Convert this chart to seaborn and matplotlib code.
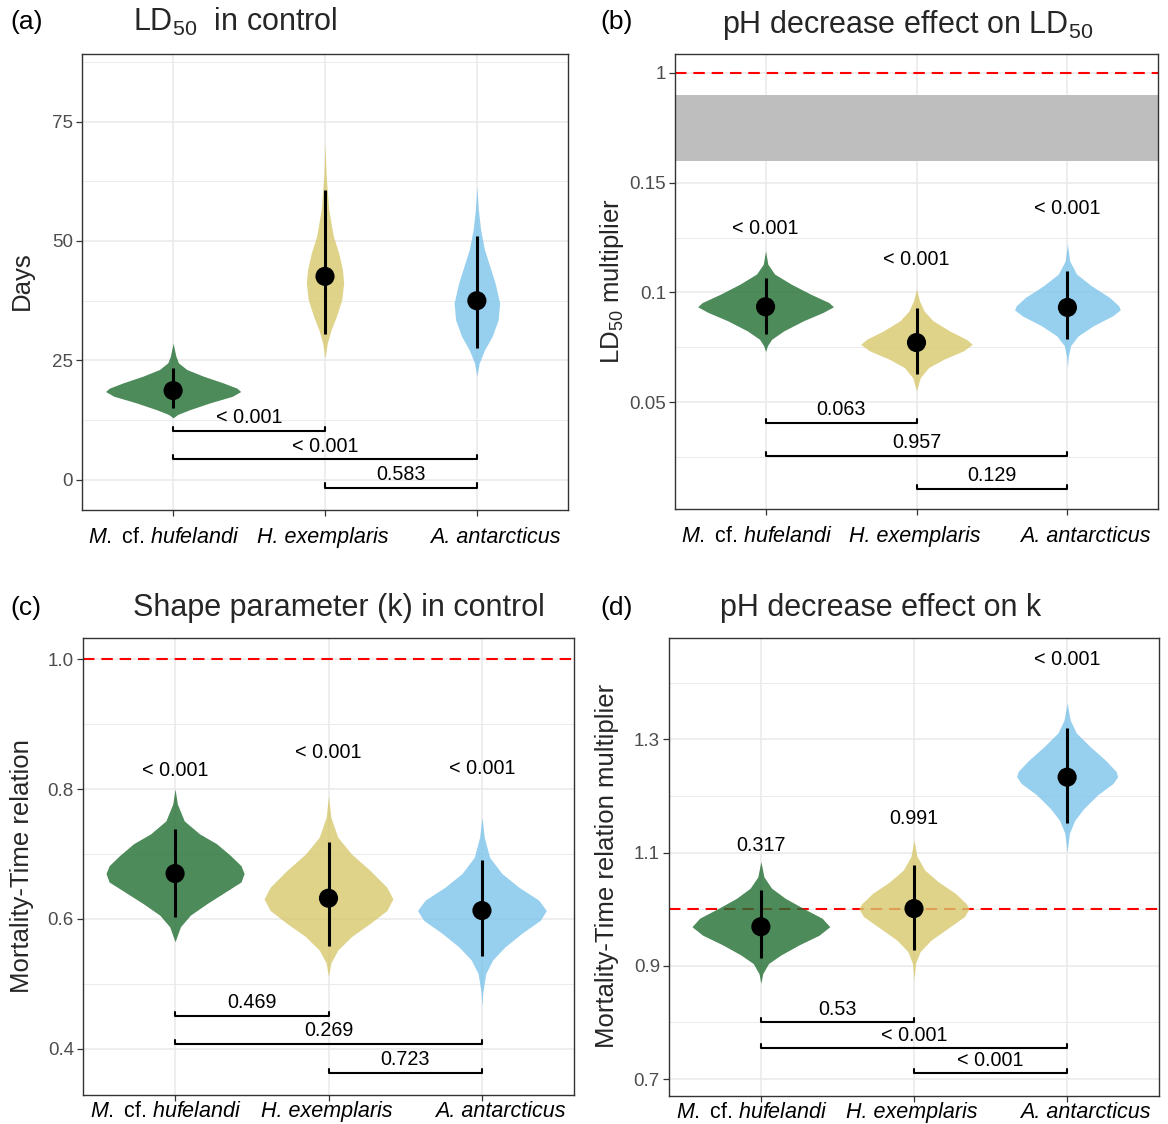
import numpy as np
import matplotlib
matplotlib.use("Agg")
import matplotlib.pyplot as plt
import matplotlib.transforms as mtransforms
from matplotlib.ticker import FixedLocator
import seaborn as sns

# DATA
species = ["M. cf. hufelandi", "H. exemplaris", "A. antarcticus"]
species_fmt = [r"$\mathit{M.}$ cf. $\mathit{hufelandi}$", "H. exemplaris", "A. antarcticus"]
pairs = [(0, 1), (0, 2), (1, 2)]

# (a) LD50 in control, days
a_mid = [18.7, 42.6, 37.5]
a_lo = [15.0, 30.6, 27.7]
a_hi = [23.4, 60.7, 51.1]
a_vy = [[13.0, 13.7, 14.7, 16.1, 17.5, 18.5, 19.2, 20.3, 21.7, 23.1, 24.5, 25.9, 28.6],
        [25.5, 28.6, 31.4, 34.2, 37.7, 41.2, 44.0, 47.5, 51.0, 56.5, 63.5, 70.5],
        [21.7, 24.4, 27.2, 30.0, 33.5, 37.0, 41.2, 44.7, 48.2, 52.3, 56.5, 61.4]]
a_vw = [[0, 0.03, 0.11, 0.24, 0.39, 0.445, 0.42, 0.33, 0.20, 0.09, 0.035, 0.018, 0],
        [0, 0.015, 0.04, 0.075, 0.11, 0.123, 0.115, 0.09, 0.055, 0.025, 0.008, 0],
        [0, 0.015, 0.05, 0.10, 0.14, 0.15, 0.12, 0.085, 0.05, 0.025, 0.01, 0]]
a_pair_p = ["< 0.001", "< 0.001", "0.583"]

# (b) pH decrease effect on LD50 (multiplier)
b_mid = [0.0935, 0.0772, 0.0932]
b_lo = [0.081, 0.0628, 0.0787]
b_hi = [0.1065, 0.0929, 0.1096]
b_vy = [[0.0731, 0.0757, 0.0787, 0.0825, 0.0871, 0.0909, 0.0935, 0.0954, 0.0992, 0.1038, 0.1084, 0.1129, 0.119],
        [0.0552, 0.0612, 0.0658, 0.0696, 0.0734, 0.0764, 0.0787, 0.0825, 0.0871, 0.0916, 0.0962, 0.1015],
        [0.0658, 0.0704, 0.0757, 0.0802, 0.0848, 0.0894, 0.0921, 0.0939, 0.0977, 0.103, 0.1084, 0.1144, 0.122]]
b_vw = [[0, 0.012, 0.04, 0.12, 0.25, 0.38, 0.45, 0.42, 0.30, 0.17, 0.06, 0.015, 0],
        [0, 0.025, 0.08, 0.18, 0.31, 0.37, 0.33, 0.22, 0.11, 0.05, 0.02, 0],
        [0, 0.005, 0.02, 0.07, 0.17, 0.30, 0.35, 0.34, 0.28, 0.16, 0.06, 0.015, 0]]
b_top_p = ["< 0.001", "< 0.001", "< 0.001"]
b_pair_p = ["0.063", "0.957", "0.129"]
b_tick_labels = ["0.05", "0.1", "0.15", "1"]

# (c) shape parameter k in control
c_mid = [0.670, 0.632, 0.613]
c_lo = [0.603, 0.558, 0.543]
c_hi = [0.738, 0.718, 0.691]
c_vy = [[0.565, 0.588, 0.606, 0.624, 0.642, 0.657, 0.670, 0.682, 0.698, 0.716, 0.731, 0.751, 0.777, 0.800],
        [0.511, 0.532, 0.552, 0.573, 0.593, 0.613, 0.631, 0.649, 0.675, 0.700, 0.726, 0.757, 0.790],
        [0.465, 0.486, 0.516, 0.537, 0.557, 0.578, 0.598, 0.613, 0.629, 0.649, 0.670, 0.695, 0.726, 0.757]]
c_vw = [[0, 0.035, 0.10, 0.21, 0.33, 0.43, 0.45, 0.43, 0.36, 0.27, 0.16, 0.06, 0.015, 0],
        [0, 0.015, 0.06, 0.15, 0.27, 0.38, 0.42, 0.38, 0.27, 0.15, 0.06, 0.015, 0],
        [0, 0.005, 0.025, 0.07, 0.15, 0.26, 0.38, 0.42, 0.37, 0.24, 0.13, 0.05, 0.015, 0]]
c_top_p = ["< 0.001", "< 0.001", "< 0.001"]
c_pair_p = ["0.469", "0.269", "0.723"]
c_tick_labels = ["0.4", "0.6", "0.8", "1.0"]

# (d) pH decrease effect on k
d_mid = [0.969, 1.001, 1.233]
d_lo = [0.913, 0.928, 1.152]
d_hi = [1.034, 1.078, 1.319]
d_vy = [[0.869, 0.886, 0.904, 0.919, 0.937, 0.954, 0.969, 0.984, 1.001, 1.019, 1.037, 1.057, 1.084],
        [0.875, 0.904, 0.925, 0.945, 0.966, 0.987, 1.001, 1.010, 1.028, 1.048, 1.069, 1.093, 1.122],
        [1.101, 1.134, 1.157, 1.178, 1.202, 1.222, 1.234, 1.243, 1.263, 1.287, 1.311, 1.334, 1.364]]
d_vw = [[0, 0.012, 0.05, 0.13, 0.25, 0.38, 0.45, 0.40, 0.28, 0.16, 0.07, 0.02, 0],
        [0, 0.01, 0.04, 0.11, 0.22, 0.33, 0.36, 0.34, 0.27, 0.16, 0.07, 0.02, 0],
        [0, 0.015, 0.05, 0.11, 0.20, 0.30, 0.33, 0.32, 0.25, 0.15, 0.06, 0.02, 0]]
d_top_p = ["0.317", "0.991", "< 0.001"]
d_pair_p = ["0.53", "< 0.001", "< 0.001"]

# STYLE
colors = ["#226E32", "#D7C86D", "#7DC3EA"]
sns.set_theme(style="whitegrid")
plt.rcParams['font.family'] = ['Liberation Sans', 'DejaVu Sans']
plt.rcParams['mathtext.fontset'] = 'custom'
plt.rcParams['mathtext.rm'] = 'Liberation Sans'
plt.rcParams['mathtext.it'] = 'Liberation Sans:italic'

W, H = 1168, 1124
fig = plt.figure(figsize=(W / 100, H / 100), dpi=100)


def add_ax(left, top, right, bottom):
    return fig.add_axes([left / W, 1 - bottom / H, (right - left) / W, (bottom - top) / H])


def panel(ax, mid, lo, hi, vy, vw, pair_p, pair_y, ylim, ticks, minor,
          top_p=None, top_y=None, ref=None, tick_labels=None, xpad=20):
    x = np.arange(3)
    ax.set_xlim(-0.6, 2.6)
    ax.set_ylim(*ylim)
    tip = 0.009 * (ylim[1] - ylim[0])

    if ref is not None:
        ax.axhline(ref, color='red', lw=1.5, dashes=(5.5, 3.3), zorder=1.8)

    # violins from the read-off density profiles
    for i in range(3):
        ys = np.array(vy[i])
        ws = np.array(vw[i])
        ax.fill_betweenx(ys, i - ws, i + ws, color=colors[i], alpha=0.8, lw=0, zorder=2)

    ax.vlines(x, lo, hi, color='black', lw=2.2, zorder=3)
    sns.scatterplot(x=x, y=mid, color='black', s=190, edgecolor='none', ax=ax, zorder=4, legend=False)

    # comparison brackets
    for (i, j), yb, lab in zip(pairs, pair_y, pair_p):
        ax.plot([i, i, j, j], [yb + tip, yb, yb, yb + tip], color='black', lw=1.5, zorder=3)
        ax.annotate(lab, xy=((i + j) / 2, yb), xytext=(0, 9.5), textcoords='offset points',
                    ha='center', va='center', fontsize=14.2, color='black')

    if top_p is not None:
        for i, (lab, yt) in enumerate(zip(top_p, top_y)):
            ax.text(i, yt, lab, ha='center', va='center', fontsize=14.2, color='black')

    ax.yaxis.set_major_locator(FixedLocator(ticks))
    ax.yaxis.set_minor_locator(FixedLocator(minor))
    if tick_labels is not None:
        ax.set_yticklabels(tick_labels)

    ax.tick_params(axis='both', which='major', bottom=True, left=True, length=4, width=0.9,
                   color='#333333', direction='out')
    ax.tick_params(axis='y', which='major', labelsize=13.5, labelcolor='#4D4D4D', pad=2.5)
    ax.tick_params(axis='x', which='major', pad=xpad)
    ax.tick_params(which='minor', length=0)
    ax.grid(False)
    ax.grid(which='major', color='#EBEBEB', lw=1.2)
    ax.grid(which='minor', axis='y', color='#EBEBEB', lw=0.7)
    ax.set_axisbelow(True)
    ax.set_xlabel('')
    ax.set_ylabel('')
    for s in ax.spines.values():
        s.set_color('#333333')
        s.set_linewidth(1.0)

    # species labels: italic names, upright "cf.", shared baseline
    ax.set_xticks(x)
    ax.set_xticklabels(species_fmt, fontsize=15.5, color='black')
    for lbl, dx in zip(ax.get_xticklabels(), [-9, -2, 18]):
        if not lbl.get_text().startswith('$'):
            lbl.set_fontstyle('italic')
        lbl.set_va('baseline')
        lbl.set_transform(lbl.get_transform() + mtransforms.ScaledTranslation(dx / 100, 0, fig.dpi_scale_trans))


ax_a = add_ax(82, 53.7, 568, 510)
panel(ax_a, a_mid, a_lo, a_hi, a_vy, a_vw, a_pair_p, [10.2, 4.3, -1.6],
      (-6.3, 89.2), [0, 25, 50, 75], [12.5, 37.5, 62.5, 87.5])

ax_b = add_ax(675, 53.6, 1158, 509)
ax_b.axhspan(0.16, 0.19, color='#BEBEBE', lw=0, zorder=1.5)
panel(ax_b, b_mid, b_lo, b_hi, b_vy, b_vw, b_pair_p, [0.0406, 0.0256, 0.0105],
      (0.0014, 0.2088), [0.05, 0.1, 0.15, 0.2], [0.025, 0.075, 0.125, 0.175],
      top_p=b_top_p, top_y=[0.129, 0.1149, 0.1381], ref=0.2, tick_labels=b_tick_labels)

ax_c = add_ax(83, 638.4, 574, 1095)
panel(ax_c, c_mid, c_lo, c_hi, c_vy, c_vw, c_pair_p, [0.451, 0.408, 0.363],
      (0.329, 1.032), [0.4, 0.6, 0.8, 1.0], [0.5, 0.7, 0.9],
      top_p=c_top_p, top_y=[0.829, 0.857, 0.832], ref=1.0, tick_labels=c_tick_labels, xpad=12)

ax_d = add_ax(669, 638.4, 1159, 1095.5)
panel(ax_d, d_mid, d_lo, d_hi, d_vy, d_vw, d_pair_p, [0.800, 0.754, 0.710],
      (0.671, 1.478), [0.7, 0.9, 1.1, 1.3], [0.8, 1.0, 1.2, 1.4],
      top_p=d_top_p, top_y=[1.113, 1.160, 1.441], ref=1.0, xpad=12)

# titles, tags and axis titles in figure pixels
def ftext(px, py, s, **kw):
    fig.text(px / W, 1 - py / H, s, **kw)

for px, py, tag in [(10, 22, "(a)"), (600, 22, "(b)"), (10, 608, "(c)"), (600, 608, "(d)")]:
    ftext(px, py, tag, fontsize=19, ha='left', va='center', color='black')

ftext(133, 22, r"LD$_{50}$  in control", fontsize=22, ha='left', va='center')
ftext(722, 25, r"pH decrease effect on LD$_{50}$", fontsize=22, ha='left', va='center')
ftext(133, 608, "Shape parameter (k) in control", fontsize=22, ha='left', va='center')
ftext(720, 608, "pH decrease effect on k", fontsize=22, ha='left', va='center')

ftext(22, 281, "Days", fontsize=18.5, rotation=90, ha='center', va='center')
ftext(612, 281, r"LD$_{50}$ multiplier", fontsize=18.5, rotation=90, ha='center', va='center')
ftext(22, 866, "Mortality-Time relation", fontsize=18.5, rotation=90, ha='center', va='center')
ftext(607, 866, "Mortality-Time relation multiplier", fontsize=18.5, rotation=90, ha='center', va='center')

fig.savefig("out.png", dpi=100, facecolor='white')
